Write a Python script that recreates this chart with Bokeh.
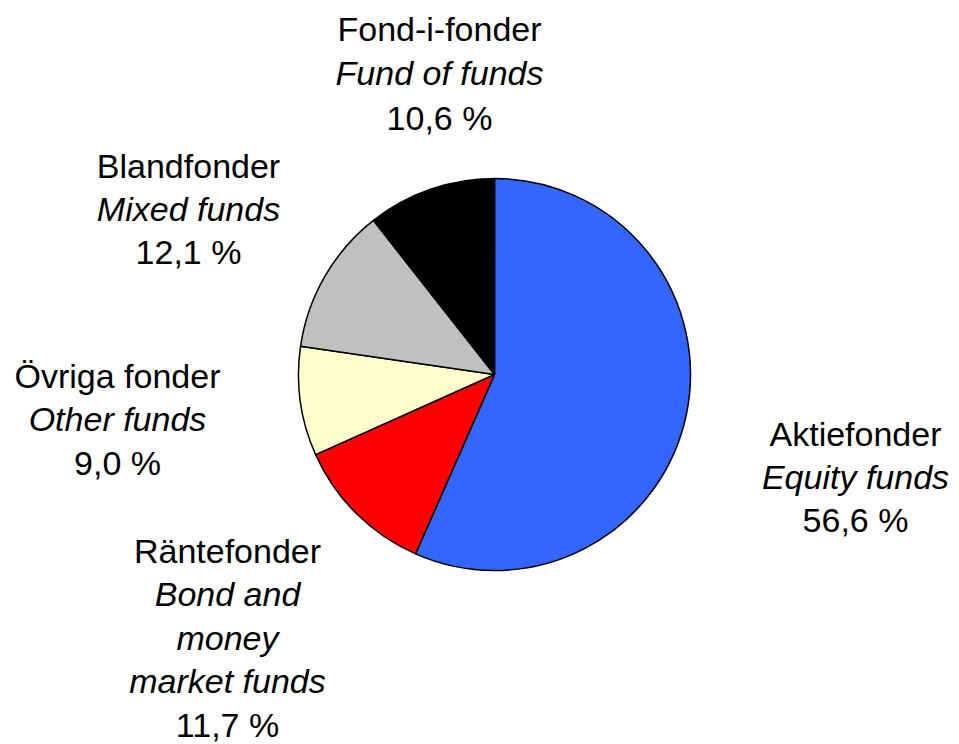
import math
from bokeh.plotting import figure
from bokeh.models import Range1d, ColumnDataSource
from bokeh.embed import file_html
from bokeh.resources import INLINE
from bokeh.core.properties import value

# ---- data ----
names_sv = ["Aktiefonder", "Räntefonder", "Övriga fonder", "Blandfonder", "Fond-i-fonder"]
names_en = [["Equity funds"], ["Bond and", "money", "market funds"], ["Other funds"],
            ["Mixed funds"], ["Fund of funds"]]
shares = [56.6, 11.7, 9.0, 12.1, 10.6]
colors = ["#3366FF", "#FF0000", "#FFFFCC", "#C0C0C0", "#000000"]

# ---- layout (pixels from top-left) ----
W, H = 959, 744
cx, cy, R = 494, 374, 196
label_anchor = [(855, 433), (227, 550), (117, 375), (188, 165), (439, 28)]
line_h = [43, 43.5, 43.5, 43, 44.5]
FONT = "Liberation Sans"
FS = "34px"

p = figure(width=W, height=H, x_range=Range1d(0, W), y_range=Range1d(0, H),
           output_backend="svg", toolbar_location=None, min_border=0)
p.axis.visible = False
p.grid.visible = False
p.outline_line_color = None
p.background_fill_color = "white"
p.border_fill_color = "white"

total = sum(shares)
starts, ends = [], []
a = math.pi / 2
for s in shares:
    starts.append(a)
    a = a - s / total * 2 * math.pi
    ends.append(a)

src = ColumnDataSource(dict(x=[cx] * len(shares), y=[H - cy] * len(shares),
                            start=starts, end=ends, color=colors))
p.wedge(x="x", y="y", radius=R, start_angle="start", end_angle="end",
        direction="clock", fill_color="color", line_color="black", line_width=1.5,
        source=src)

xs_n, ys_n, tx_n = [], [], []
xs_i, ys_i, tx_i = [], [], []
for i, (sv, en, v) in enumerate(zip(names_sv, names_en, shares)):
    ax, ay = label_anchor[i]
    lines = [("n", sv)] + [("i", e) for e in en] + [("n", f"{v:.1f}".replace(".", ",") + " %")]
    for k, (kind, t) in enumerate(lines):
        yy = H - (ay + k * line_h[i])
        if kind == "n":
            xs_n.append(ax); ys_n.append(yy); tx_n.append(t)
        else:
            xs_i.append(ax); ys_i.append(yy); tx_i.append(t)

p.text(x=xs_n, y=ys_n, text=tx_n, text_font=value(FONT), text_font_size=FS,
       text_align="center", text_baseline="middle", text_color="black")
p.text(x=xs_i, y=ys_i, text=tx_i, text_font=value(FONT), text_font_size=FS,
       text_font_style="italic", text_align="center", text_baseline="middle",
       text_color="black")

open("out.html", "w").write(file_html(p, INLINE))
